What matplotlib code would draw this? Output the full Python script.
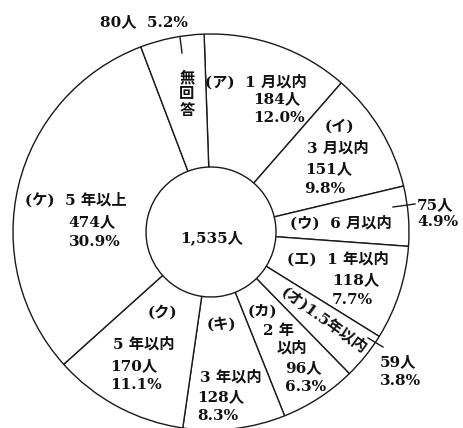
import matplotlib
matplotlib.use("Agg")
import matplotlib.pyplot as plt

# ---- data ----
codes = ["ア", "イ", "ウ", "エ", "オ", "カ", "キ", "ク", "ケ", "無回答"]
periods = ["1 月以内", "3 月以内", "6 月以内", "1 年以内", "1.5年以内",
           "2 年以内", "3 年以内", "5 年以内", "5 年以上", "無回答"]
counts = [184, 151, 75, 118, 59, 96, 128, 170, 474, 80]
percents = [12.0, 9.8, 4.9, 7.7, 3.8, 6.3, 8.3, 11.1, 30.9, 5.2]
total_label = "1,535人"

W, H = 463, 428
fig = plt.figure(figsize=(W / 100, H / 100), dpi=100)
fig.patch.set_facecolor("white")
ax = fig.add_axes([0, 0, 1, 1])

def Y(y):
    return H - y

CX, CY, R, RIN = 211, Y(232), 198, 65
EDGE = "#1a1a1a"

ax.pie(counts, startangle=92, counterclock=False, radius=R, center=(CX, CY),
       wedgeprops=dict(width=R - RIN, facecolor="white", edgecolor=EDGE,
                       linewidth=1.0))
ax.set_xlim(0, W)
ax.set_ylim(0, H)
ax.set_aspect("equal")
ax.axis("off")

FAM = ["DejaVu Serif", "Noto Sans CJK JP"]
FS = 11
TXT = dict(family=FAM, fontsize=FS, color="#111111", fontweight="semibold")

def t(s, x, y, ha="left", rot=0):
    ax.text(x, Y(y), s, ha=ha, va="center", rotation=rot,
            rotation_mode="anchor", **TXT)

def cnt(i):
    return f"{counts[i]}人"

def pct(i):
    return f"{percents[i]:.1f}%"

# ア
t(f"({codes[0]})  {periods[0]}", 205, 82)
t(cnt(0), 253, 99)
t(pct(0), 253, 118)
# イ
t(f"({codes[1]})", 325, 126)
t(periods[1], 307, 148)
t(cnt(1), 305, 169)
t(pct(1), 304, 189)
# ウ
t(f"({codes[2]})  {periods[2]}", 290, 223)
t(cnt(2), 417, 205)
t(pct(2), 417, 222)
# エ
t(f"({codes[3]})  {periods[3]}", 287, 259)
t(cnt(3), 332, 280)
t(pct(3), 332, 300)
# オ (rotated along wedge)
ax.text(324, Y(320), f"({codes[4]}){periods[4]}", ha="center", va="center",
        rotation=-36, rotation_mode="anchor", **TXT)
t(cnt(4), 380, 362)
t(pct(4), 380, 381)
# カ
t(f"({codes[5]})", 248, 311)
t(periods[5][:3], 263, 331)
t(periods[5][3:], 277, 348)
t(cnt(5), 285, 368)
t(pct(5), 285, 387)
# キ
t(f"({codes[6]})", 207, 324)
t(periods[6], 200, 377)
t(cnt(6), 197, 397)
t(pct(6), 197, 416)
# ク
t(f"({codes[7]})", 148, 312)
t(periods[7], 113, 344)
t(cnt(7), 110, 366)
t(pct(7), 110, 385)
# ケ
t(f"({codes[8]})  {periods[8]}", 25, 200)
t(cnt(8), 68, 222)
t(pct(8), 69, 242)
# 無回答
ax.text(187, Y(94), "\n".join(codes[9]), ha="center", va="center",
        linespacing=1.2, **TXT)
t(f"{cnt(9)}  {pct(9)}", 100, 22)
# center total
t(total_label, 180, 238)

# leader ticks
for (x1, y1), (x2, y2) in [((180, 37), (182, 53)),
                           ((393, 207), (415, 204)),
                           ((368, 338), (383, 347))]:
    ax.plot([x1, x2], [Y(y1), Y(y2)], color=EDGE, lw=1.0)

fig.savefig("out.png", dpi=100, facecolor="white")
